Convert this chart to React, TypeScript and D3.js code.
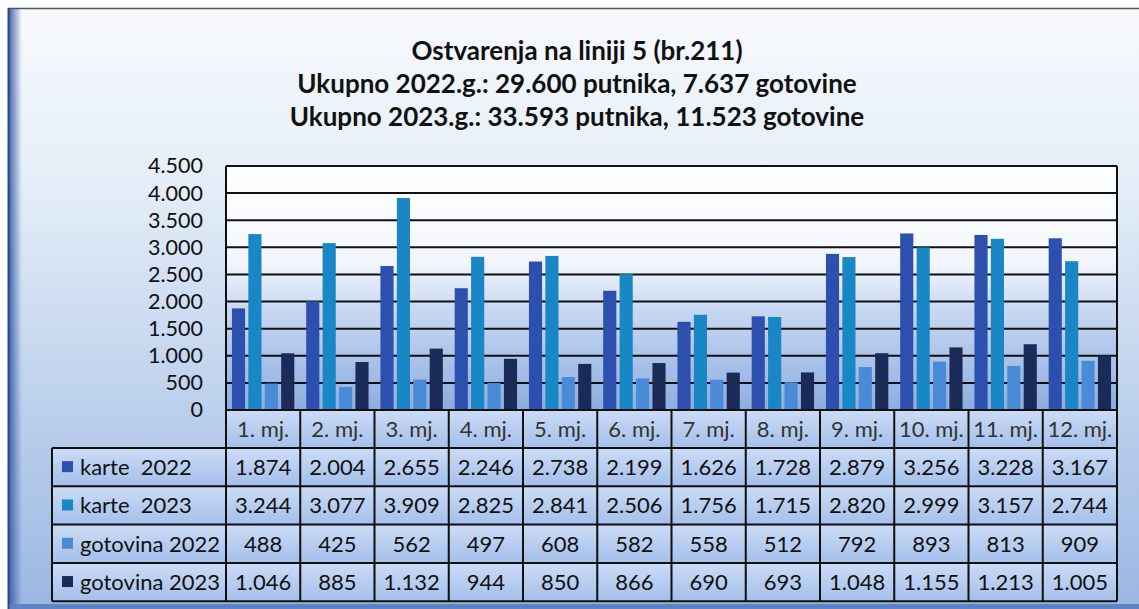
import React, { useEffect, useRef } from "react";
import * as d3 from "d3";

const months = ["1. mj.", "2. mj.", "3. mj.", "4. mj.", "5. mj.", "6. mj.", "7. mj.", "8. mj.", "9. mj.", "10. mj.", "11. mj.", "12. mj."];
const seriesNames = ["karte  2022", "karte  2023", "gotovina 2022", "gotovina 2023"];
const karte2022 = [1874, 2004, 2655, 2246, 2738, 2199, 1626, 1728, 2879, 3256, 3228, 3167];
const karte2023 = [3244, 3077, 3909, 2825, 2841, 2506, 1756, 1715, 2820, 2999, 3157, 2744];
const gotovina2022 = [488, 425, 562, 497, 608, 582, 558, 512, 792, 893, 813, 909];
const gotovina2023 = [1046, 885, 1132, 944, 850, 866, 690, 693, 1048, 1155, 1213, 1005];
const yTicks = [0, 500, 1000, 1500, 2000, 2500, 3000, 3500, 4000, 4500];
const titleLines = [
  "Ostvarenja na liniji 5 (br.211)",
  "Ukupno 2022.g.: 29.600 putnika, 7.637 gotovine",
  "Ukupno 2023.g.: 33.593 putnika, 11.523 gotovine",
];
const colors = ["#2d4fae", "#1986c5", "#4a8bd7", "#1b2b57"];

const W = 1139;
const H = 609;
const FONT = "Lato, 'Open Sans', sans-serif";

const App = () => {
  const ref = useRef<SVGSVGElement | null>(null);

  useEffect(() => {
    const svg = d3.select(ref.current);
    svg.selectAll("*").remove();

    const values = [karte2022, karte2023, gotovina2022, gotovina2023];
    const fmt = d3.formatLocale({ decimal: ",", thousands: ".", grouping: [3], currency: ["", ""] }).format(",d");

    const plot = { left: 226, right: 1117, top: 166, bottom: 410 };
    const tableLeft = 52;
    const rowH = 38.3;
    const tableTop = 448;

    const x0 = d3.scaleBand().domain(months).range([plot.left, plot.right]).paddingInner(0.16).paddingOuter(0.08);
    const x1 = d3.scaleBand().domain(seriesNames).range([0, x0.bandwidth()]).paddingInner(0.2);
    const y = d3.scaleLinear().domain([0, 4500]).range([plot.bottom, plot.top]);
    const step = (plot.right - plot.left) / months.length;

    const defs = svg.append("defs");
    const bg = defs.append("linearGradient").attr("id", "bg").attr("x1", 0).attr("y1", 0).attr("x2", 0).attr("y2", 1);
    bg.append("stop").attr("offset", "0%").attr("stop-color", "#f8fafd");
    bg.append("stop").attr("offset", "30%").attr("stop-color", "#e4edf8");
    bg.append("stop").attr("offset", "65%").attr("stop-color", "#bed1ed");
    bg.append("stop").attr("offset", "100%").attr("stop-color", "#9ab7e2");

    const side = defs.append("linearGradient").attr("id", "side").attr("x1", 0).attr("y1", 0).attr("x2", 1).attr("y2", 0);
    side.append("stop").attr("offset", "0%").attr("stop-color", "#3a5ea6");
    side.append("stop").attr("offset", "100%").attr("stop-color", "#3a5ea6").attr("stop-opacity", 0);

    const pg = defs.append("linearGradient").attr("id", "plotbg").attr("x1", 0).attr("y1", 0).attr("x2", 0).attr("y2", 1);
    pg.append("stop").attr("offset", "0%").attr("stop-color", "#ffffff");
    pg.append("stop").attr("offset", "40%").attr("stop-color", "#f2f6fc");
    pg.append("stop").attr("offset", "58%").attr("stop-color", "#c9d9f2");
    pg.append("stop").attr("offset", "100%").attr("stop-color", "#8dade0");

    const cg = defs.append("linearGradient").attr("id", "cell").attr("x1", 0).attr("y1", 0).attr("x2", 0).attr("y2", 1);
    cg.append("stop").attr("offset", "0%").attr("stop-color", "#cbdbf5");
    cg.append("stop").attr("offset", "100%").attr("stop-color", "#a5c0eb");

    // background + frame
    svg.append("rect").attr("x", 0).attr("y", 0).attr("width", W).attr("height", H).attr("fill", "#ffffff");
    svg.append("rect").attr("x", 8).attr("y", 8).attr("width", W - 8).attr("height", H - 8).attr("fill", "url(#bg)");
    svg.append("rect").attr("x", 8).attr("y", 8).attr("width", 14).attr("height", H - 8).attr("fill", "url(#side)");
    svg.append("rect").attr("x", 8).attr("y", H - 5).attr("width", W - 8).attr("height", 5).attr("fill", "#5f82c2");
    svg.append("line").attr("x1", 8).attr("x2", W).attr("y1", 8.5).attr("y2", 8.5).attr("stroke", "#555").attr("stroke-width", 1.5);
    svg.append("line").attr("x1", 8.5).attr("x2", 8.5).attr("y1", 8).attr("y2", H).attr("stroke", "#2a4785").attr("stroke-width", 2);

    // title
    svg.append("g")
      .selectAll("text")
      .data(titleLines)
      .join("text")
      .attr("x", 577)
      .attr("y", (d, i) => 59.5 + i * 33)
      .attr("text-anchor", "middle")
      .attr("font-family", FONT)
      .attr("font-weight", 700)
      .attr("font-size", 26)
      .attr("fill", "#111")
      .text(d => d);

    // plot area
    svg.append("rect")
      .attr("x", plot.left).attr("y", plot.top)
      .attr("width", plot.right - plot.left).attr("height", plot.bottom - plot.top)
      .attr("fill", "url(#plotbg)");

    // grid lines (behind bars)
    svg.append("g")
      .selectAll("line")
      .data(yTicks.filter(t => t > 0))
      .join("line")
      .attr("x1", plot.left).attr("x2", plot.right)
      .attr("y1", d => y(d)).attr("y2", d => y(d))
      .attr("stroke", "#111").attr("stroke-width", 2);

    // bars
    const groups = svg.append("g")
      .selectAll("g")
      .data(months)
      .join("g")
      .attr("transform", d => `translate(${x0(d)},0)`);

    groups.selectAll("rect")
      .data((m, i) => seriesNames.map((s, k) => ({ s, k, v: values[k][i] })))
      .join("rect")
      .attr("x", d => x1(d.s))
      .attr("y", d => y(d.v))
      .attr("width", x1.bandwidth())
      .attr("height", d => y(0) - y(d.v))
      .attr("fill", d => colors[d.k]);

    // y axis
    svg.append("g")
      .attr("transform", `translate(${plot.left},0)`)
      .call(d3.axisLeft(y).tickValues(yTicks).tickSize(0).tickPadding(23).tickFormat(d => fmt(d as number)))
      .call(g => g.select(".domain").remove())
      .call(g => g.selectAll("text").attr("font-family", FONT).attr("font-size", 21.5).attr("fill", "#111"));

    // table cells
    const rowsY = d3.range(seriesNames.length).map(i => tableTop + i * rowH);
    svg.append("g")
      .selectAll("rect")
      .data(months)
      .join("rect")
      .attr("x", (d, i) => plot.left + i * step + 1)
      .attr("y", plot.bottom + 1)
      .attr("width", step - 2)
      .attr("height", tableTop - plot.bottom - 2)
      .attr("fill", "url(#cell)");

    rowsY.forEach(ry => {
      svg.append("rect").attr("x", tableLeft + 1).attr("y", ry + 1)
        .attr("width", plot.left - tableLeft - 2).attr("height", rowH - 2).attr("fill", "url(#cell)");
      months.forEach((m, i) => {
        svg.append("rect").attr("x", plot.left + i * step + 1).attr("y", ry + 1)
          .attr("width", step - 2).attr("height", rowH - 2).attr("fill", "url(#cell)");
      });
    });

    // table lines
    const lines = svg.append("g").attr("stroke", "#111").attr("stroke-width", 2);
    [tableTop, ...rowsY.map(r => r + rowH)].forEach(ly => {
      lines.append("line").attr("x1", tableLeft).attr("x2", plot.right).attr("y1", ly).attr("y2", ly);
    });
    lines.append("line").attr("x1", plot.left).attr("x2", plot.right).attr("y1", plot.bottom).attr("y2", plot.bottom);
    lines.append("line").attr("x1", plot.left).attr("x2", plot.right).attr("y1", plot.top).attr("y2", plot.top);
    lines.append("line").attr("x1", tableLeft).attr("x2", tableLeft).attr("y1", tableTop).attr("y2", tableTop + rowH * 4);
    d3.range(months.length + 1).forEach(i => {
      const lx = plot.left + i * step;
      const top = i === 0 || i === months.length ? plot.top : plot.bottom;
      lines.append("line").attr("x1", lx).attr("x2", lx).attr("y1", top).attr("y2", tableTop + rowH * 4);
    });

    // header labels
    svg.append("g")
      .selectAll("text")
      .data(months)
      .join("text")
      .attr("x", (d, i) => plot.left + (i + 0.5) * step)
      .attr("y", (plot.bottom + tableTop) / 2 + 8)
      .attr("text-anchor", "middle")
      .attr("font-family", FONT)
      .attr("font-size", 22)
      .attr("fill", "#333")
      .text(d => d);

    // legend column
    seriesNames.forEach((s, k) => {
      const cy = rowsY[k] + rowH / 2;
      svg.append("rect").attr("x", 62).attr("y", cy - 6).attr("width", 11).attr("height", 11).attr("fill", colors[k]);
      svg.append("text").attr("x", 80).attr("y", cy + 8)
        .attr("font-family", FONT).attr("font-size", 22).attr("fill", "#111")
        .attr("xml:space", "preserve").style("white-space", "pre")
        .text(s);
      values[k].forEach((v, i) => {
        svg.append("text")
          .attr("x", plot.left + (i + 0.5) * step)
          .attr("y", cy + 8)
          .attr("text-anchor", "middle")
          .attr("font-family", FONT).attr("font-size", 22).attr("fill", "#111")
          .text(fmt(v));
      });
    });
  }, []);

  return (
    <svg
      ref={ref}
      width={W}
      height={H}
      style={{ position: "absolute", left: 0, top: 0, display: "block" }}
    />
  );
};

export default App;
